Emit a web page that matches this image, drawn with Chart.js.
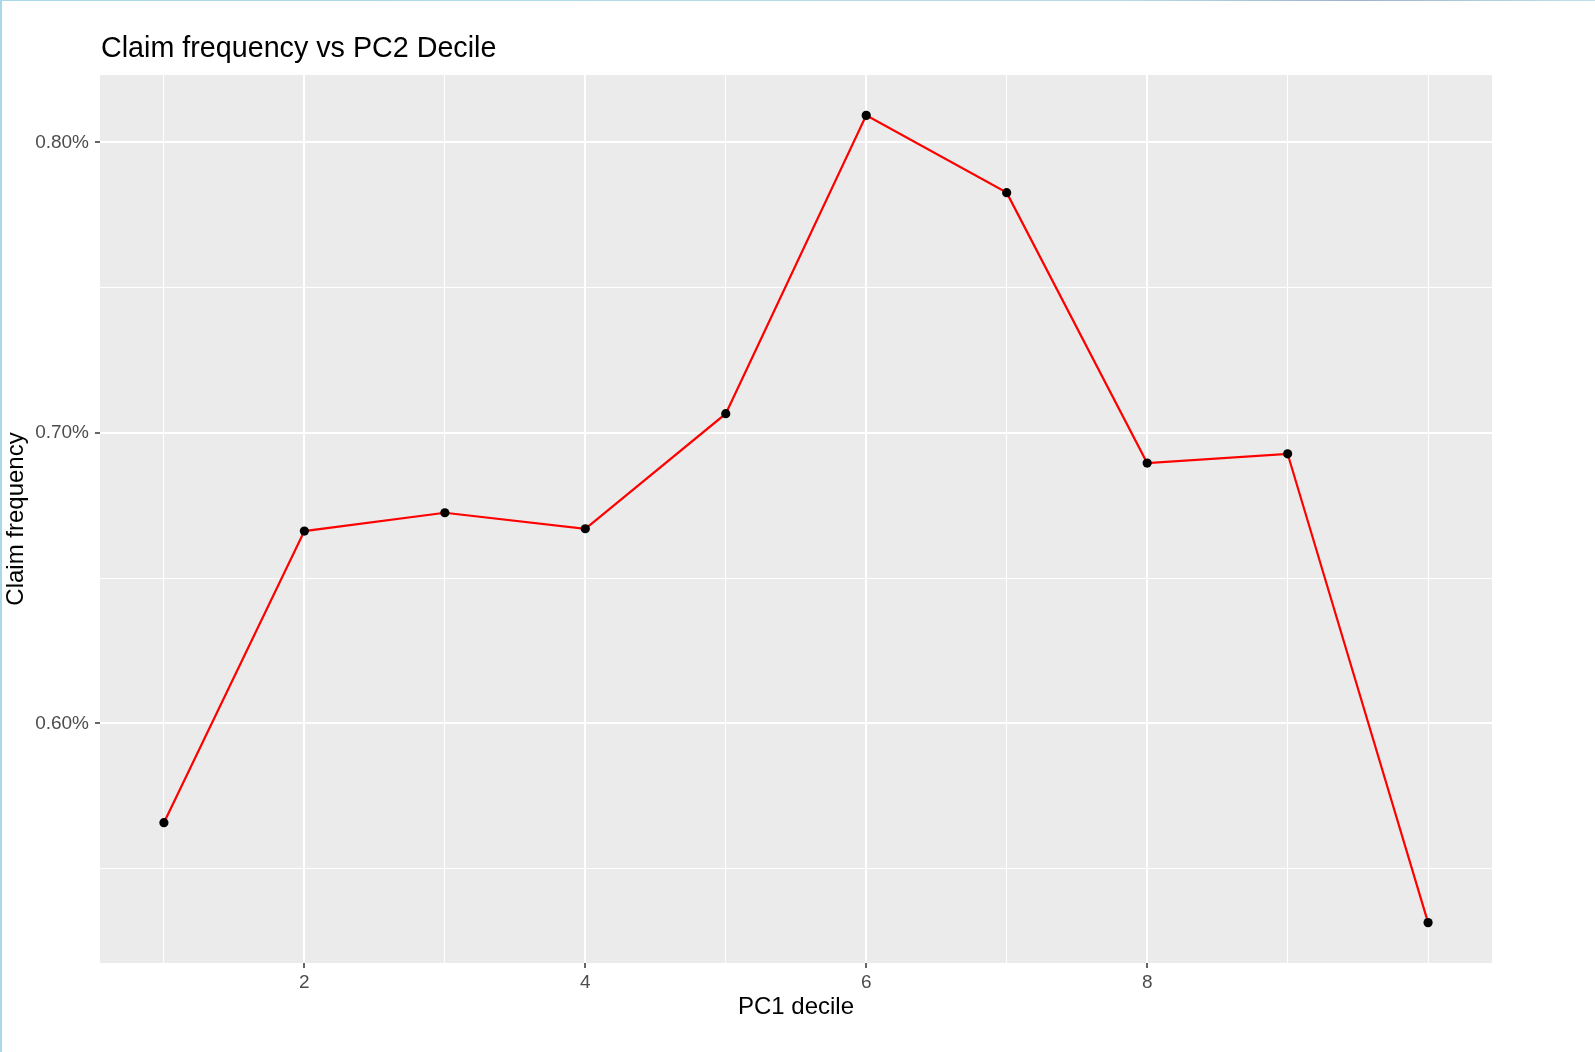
<!DOCTYPE html>
<html>
<head>
<meta charset="utf-8">
<title>Claim frequency vs PC2 Decile</title>
<script src="https://cdn.jsdelivr.net/npm/chart.js@4.4.1/dist/chart.umd.min.js"></script>
<style>
  html, body { margin: 0; padding: 0; background: #fff; }
  #wrap { position: relative; width: 1595px; height: 1052px; }
  /* thin window edges seen in the screenshot */
  #edgeLeft { position: absolute; left: 0; top: 0; width: 2px; height: 100%; background: #a9d9e6; }
  #edgeTop { position: absolute; left: 0; top: 0; width: 100%; height: 1px;
             background: linear-gradient(90deg, #a9d9e6 0%, #b8dce6 70%, #9fb3cc 85%, #bfe3e8 100%); }
</style>
</head>
<body>
<div id="wrap">
  <canvas id="chart"></canvas>
  <div id="edgeLeft"></div>
  <div id="edgeTop"></div>
</div>
<script>
/* ====== data ====== */
const deciles   = [1, 2, 3, 4, 5, 6, 7, 8, 9, 10];
const claimFreq = [0.5658, 0.6662, 0.6725, 0.6670, 0.7066, 0.8093, 0.7827, 0.6896, 0.6928, 0.5314]; // in %

const xTicks      = [1, 2, 3, 4, 5, 6, 7, 8, 9, 10];
const xMajorTicks = [2, 4, 6, 8];
const yTicks      = [0.55, 0.60, 0.65, 0.70, 0.75, 0.80];
const yMajorTicks = [0.60, 0.70, 0.80];

const TITLE   = "Claim frequency vs PC2 Decile";
const X_TITLE = "PC1 decile";
const Y_TITLE = "Claim frequency";

/* ---------- helpers ---------- */
const FONT = "'Liberation Sans', Arial, sans-serif";
const isMajor = (list, v) => list.some(m => Math.abs(m - v) < 1e-9);

// grey ggplot panel behind the grid
const panelBg = {
  id: "panelBg",
  beforeDraw(chart) {
    const { ctx, chartArea: a } = chart;
    ctx.save();
    ctx.fillStyle = "#ebebeb";
    ctx.fillRect(a.left, a.top, a.right - a.left, a.bottom - a.top);
    ctx.restore();
  }
};

// left aligned plot title (ggplot puts it at the panel edge)
const plotTitle = {
  id: "plotTitle",
  afterDraw(chart) {
    const { ctx, chartArea: a } = chart;
    ctx.save();
    ctx.font = "28.7px " + FONT;
    ctx.fillStyle = "#000";
    ctx.textAlign = "left";
    ctx.textBaseline = "alphabetic";
    ctx.fillText(TITLE, a.left + 1, 57);
    ctx.restore();
  }
};

const data = {
  datasets: [{
    label: Y_TITLE,
    data: deciles.map((d, i) => ({ x: d, y: claimFreq[i] })),
    borderColor: "#ff0000",
    borderWidth: 2.2,
    tension: 0,
    pointRadius: 4.6,
    pointHoverRadius: 4.6,
    pointBackgroundColor: "#000",
    pointBorderColor: "#000",
    pointBorderWidth: 0
  }]
};

const options = {
  responsive: true,
  maintainAspectRatio: false,
  animation: false,
  layout: { padding: { left: 0, top: 75, right: 103, bottom: 30 } },
  plugins: {
    legend: { display: false },
    title: { display: false },
    tooltip: { enabled: false }
  },
  scales: {
    x: {
      type: "linear",
      min: 0.545,
      max: 10.455,
      afterBuildTicks: s => { s.ticks = xTicks.map(v => ({ value: v })); },
      afterFit: s => { s.height = 59; },
      border: { display: false },
      grid: {
        color: "#ffffff",
        lineWidth: c => isMajor(xMajorTicks, c.tick.value) ? 2 : 1,
        tickColor: c => isMajor(xMajorTicks, c.tick.value) ? "#333333" : "rgba(0,0,0,0)",
        tickWidth: 1.5,
        tickLength: 5
      },
      ticks: {
        padding: 3,
        color: "#4d4d4d",
        font: { family: FONT, size: 19 },
        maxRotation: 0,
        autoSkip: false,
        callback: v => isMajor(xMajorTicks, v) ? String(v) : ""
      },
      title: {
        display: true,
        text: X_TITLE,
        color: "#000",
        font: { family: FONT, size: 24 },
        padding: { top: 0, bottom: 0 }
      }
    },
    y: {
      type: "linear",
      min: 0.5175,
      max: 0.8232,
      afterBuildTicks: s => { s.ticks = yTicks.map(v => ({ value: v })); },
      afterFit: s => { s.width = 100; },
      border: { display: false },
      grid: {
        color: "#ffffff",
        lineWidth: c => isMajor(yMajorTicks, c.tick.value) ? 2 : 1,
        tickColor: c => isMajor(yMajorTicks, c.tick.value) ? "#333333" : "rgba(0,0,0,0)",
        tickWidth: 1.5,
        tickLength: 5
      },
      ticks: {
        padding: 6,
        color: "#4d4d4d",
        font: { family: FONT, size: 19 },
        autoSkip: false,
        callback: v => isMajor(yMajorTicks, v) ? v.toFixed(2) + "%" : ""
      },
      title: {
        display: true,
        text: Y_TITLE,
        color: "#000",
        font: { family: FONT, size: 24 },
        padding: { top: 2, bottom: 0 }
      }
    }
  }
};

new Chart(document.getElementById("chart"), {
  type: "line",
  data,
  options,
  plugins: [panelBg, plotTitle]
});
</script>
</body>
</html>
